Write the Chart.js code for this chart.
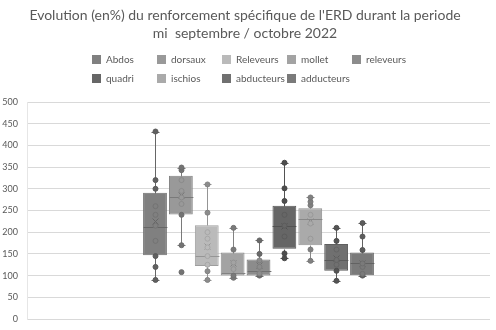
<!DOCTYPE html>
<html>
<head>
<meta charset="utf-8">
<script src="https://cdn.jsdelivr.net/npm/chart.js@4"></script>
<style>
  body { margin: 0; background: #fff; }
  #wrap { position: relative; width: 496px; height: 330px; }
  #legend { position: absolute; left: 0; top: 0; font: 10px Lato, sans-serif; color: #595959; }
  .item { position: absolute; white-space: nowrap; line-height: 10px; }
  .sw { display: inline-block; width: 9px; height: 9px; vertical-align: -1px; margin-right: 5px; }
</style>
</head>
<body>
<div id="wrap">
  <canvas id="boxChart" width="496" height="330"></canvas>
  <div id="legend"></div>
</div>
<script>
var names = ['Abdos', 'dorsaux', 'Releveurs', 'mollet', 'releveurs', 'quadri', 'ischios', 'abducteurs', 'adducteurs'];
var colors = ['#808080', '#999999', '#bababa', '#a3a3a3', '#8c8c8c', '#666666', '#aaaaaa', '#707070', '#7a7a7a'];
var lowW = [90, 170, 90, 95, 100, 140, 134, 88, 100];
var q1 = [147, 241, 122, 100, 100, 162, 170, 111, 101];
var median = [213, 280, 145, 105, 110, 214, 230, 136, 128];
var q3 = [291, 330, 216, 153, 137, 261, 255, 173, 153];
var highW = [432, 349, 310, 210, 181, 360, 280, 210, 221];
var means = [225, 285, 168, 130, 125, 215, 225, 140, 130];
var points = [
    [90, 120, 145, 180, 215, 240, 260, 300, 320, 432],
    [108, 170, 240, 265, 280, 295, 320, 343, 349],
    [90, 110, 125, 145, 165, 185, 200, 245, 310],
    [95, 100, 115, 130, 160, 210],
    [100, 105, 120, 135, 150, 181],
    [140, 151, 190, 215, 240, 272, 301, 360],
    [134, 160, 185, 220, 240, 262, 270, 280],
    [88, 111, 125, 136, 160, 180, 210],
    [100, 104, 120, 128, 159, 190, 221]
];
var yTicks = [0, 50, 100, 150, 200, 250, 300, 350, 400, 450, 500];

function darker(hex, f) {
    var v = Math.round(parseInt(hex.slice(1, 3), 16) * f);
    var h = v.toString(16).padStart(2, '0');
    return '#' + h + h + h;
}

// whiskers, median, mean and points drawn on top of the floating bars
var boxExtras = {
    id: 'boxExtras',
    afterDatasetsDraw: function(chart) {
        var c = chart.ctx, y = chart.scales.y;
        chart.data.datasets.forEach(function(ds, i) {
            var bar = chart.getDatasetMeta(i).data[0];
            var x = Math.round(bar.x) + 0.5, w = bar.width, cap = 4;
            var py = function(v) { return Math.round(y.getPixelForValue(v)) + 0.5; };
            c.save();
            c.strokeStyle = darker(colors[i], 0.8);
            c.lineWidth = 1;
            c.beginPath();
            c.moveTo(x, py(q3[i]));
            c.lineTo(x, py(highW[i]));
            c.moveTo(x - cap, py(highW[i]));
            c.lineTo(x + cap, py(highW[i]));
            c.moveTo(x, py(q1[i]));
            c.lineTo(x, py(lowW[i]));
            c.moveTo(x - cap, py(lowW[i]));
            c.lineTo(x + cap, py(lowW[i]));
            c.moveTo(x - w / 2, py(median[i]));
            c.lineTo(x + w / 2, py(median[i]));
            c.stroke();
            // mean marker
            var my = py(means[i]);
            c.beginPath();
            c.moveTo(x - 3, my - 3); c.lineTo(x + 3, my + 3);
            c.moveTo(x + 3, my - 3); c.lineTo(x - 3, my + 3);
            c.stroke();
            // data points
            points[i].forEach(function(v) {
                var inside = v > q1[i] && v < q3[i];
                c.beginPath();
                c.arc(x, y.getPixelForValue(v), 2.5, 0, Math.PI * 2);
                c.fillStyle = inside ? colors[i] : darker(colors[i], 0.75);
                c.fill();
                c.strokeStyle = darker(colors[i], inside ? 0.9 : 0.7);
                c.stroke();
            });
            c.restore();
        });
    }
};

var datasets = names.map(function(n, i) {
    return {
        label: n,
        data: [[q1[i], q3[i]]],
        backgroundColor: colors[i],
        borderColor: darker(colors[i], 0.85),
        borderWidth: 1,
        borderSkipped: false,
        barPercentage: 0.92,
        categoryPercentage: 0.503
    };
});

var ctx = document.getElementById('boxChart').getContext('2d');
var boxChart = new Chart(ctx, {
    type: 'bar',
    data: { labels: [''], datasets: datasets },
    options: {
        responsive: false,
        animation: false,
        layout: { padding: { left: 0, right: 6, bottom: 11, top: 0 } },
        plugins: {
            legend: { display: false },
            tooltip: { enabled: false },
            title: {
                display: true,
                text: ["Evolution (en%) du renforcement spécifique de l'ERD durant la periode", 'mi  septembre / octobre 2022'],
                color: '#595959',
                font: { family: 'Lato', size: 14, weight: 'normal', lineHeight: 1.25 },
                padding: { top: 7, bottom: 60 }
            }
        },
        scales: {
            x: { display: false },
            y: {
                min: 0,
                max: 500,
                afterBuildTicks: function(axis) {
                    axis.ticks = yTicks.map(function(v) { return { value: v }; });
                },
                afterFit: function(axis) {
                    axis.width = 27;
                    axis.paddingBottom = 5;
                },
                grid: { color: '#d9d9d9', drawTicks: false, tickLength: 0 },
                border: { color: '#e6e6e6' },
                ticks: { color: '#595959', font: { family: 'Lato', size: 9 }, padding: 9 }
            }
        }
    },
    plugins: [boxExtras]
});

var legend = document.getElementById('legend');
names.forEach(function(n, i) {
    var el = document.createElement('div');
    el.className = 'item';
    el.style.left = (92 + (i % 5) * 65) + 'px';
    el.style.top = (54 + Math.floor(i / 5) * 19) + 'px';
    el.innerHTML = '<span class="sw" style="background:' + colors[i] + '"></span>' + n;
    legend.appendChild(el);
});
</script>
</body>
</html>
